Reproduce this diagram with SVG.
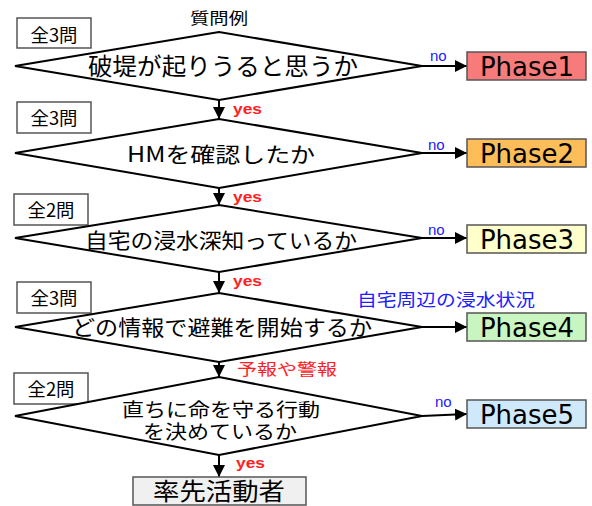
<svg xmlns="http://www.w3.org/2000/svg" width="592" height="506" viewBox="0 0 592 506">
<style>
.dia{fill:#fff;stroke:#000;stroke-width:2}
.lbl{fill:#fff;stroke:#555;stroke-width:1.5}
.ph{stroke:#555;stroke-width:1.5}
.jp{font-family:"Noto Sans CJK JP","Noto Sans",sans-serif;fill:#000}
.qt{font-size:21px;text-anchor:middle}
.cnt{font-size:18px;text-anchor:middle}
.phase{font-family:"DejaVu Sans",sans-serif;font-size:26px;text-anchor:middle;fill:#000}
.yes{font-family:"Liberation Sans",Arial,sans-serif;font-size:15px;font-weight:bold;fill:#ff2020}
.no{font-family:"Liberation Sans",Arial,sans-serif;font-size:15px;fill:#2020ff}
.con{stroke:#000;stroke-width:2;fill:none}
</style>
<defs>
<marker id="ah" viewBox="0 0 12 12" refX="12" refY="6" markerWidth="12" markerHeight="12" markerUnits="userSpaceOnUse" orient="auto">
<path d="M0,0 L12,6 L0,12 Z" fill="#000"/>
</marker>
</defs>
<text class="jp" x="219" y="24" font-size="16" text-anchor="middle" textLength="58" lengthAdjust="spacingAndGlyphs">質問例</text>
<g id="connectors">
<line class="con" x1="422" y1="66" x2="467" y2="66" marker-end="url(#ah)"/>
<line class="con" x1="422" y1="153" x2="467" y2="153" marker-end="url(#ah)"/>
<line class="con" x1="422" y1="238" x2="467" y2="238" marker-end="url(#ah)"/>
<line class="con" x1="422" y1="327" x2="467" y2="327" marker-end="url(#ah)"/>
<line class="con" x1="422" y1="416" x2="467" y2="414" marker-end="url(#ah)"/>
<line class="con" x1="219" y1="100" x2="219" y2="119" marker-end="url(#ah)"/>
<line class="con" x1="219" y1="188" x2="219" y2="205" marker-end="url(#ah)"/>
<line class="con" x1="219" y1="272" x2="219" y2="293" marker-end="url(#ah)"/>
<line class="con" x1="219" y1="362" x2="219" y2="377" marker-end="url(#ah)"/>
<line class="con" x1="219" y1="455" x2="219" y2="477" marker-end="url(#ah)"/>
<text class="no" x="430" y="61">no</text>
<text class="no" x="428" y="150">no</text>
<text class="no" x="428" y="235">no</text>
<text class="no" x="435" y="407">no</text>
<text class="yes" x="233" y="114" textLength="29" lengthAdjust="spacingAndGlyphs">yes</text>
<text class="yes" x="233" y="202" textLength="29" lengthAdjust="spacingAndGlyphs">yes</text>
<text class="yes" x="233" y="286" textLength="29" lengthAdjust="spacingAndGlyphs">yes</text>
<text class="yes" x="236" y="468" textLength="29" lengthAdjust="spacingAndGlyphs">yes</text>
<text class="jp" x="237" y="375" font-size="16" style="fill:#ff2020" textLength="100" lengthAdjust="spacingAndGlyphs">予報や警報</text>
<text class="jp" x="357" y="306" font-size="17" style="fill:#2020ff" textLength="178" lengthAdjust="spacingAndGlyphs">自宅周辺の浸水状況</text>
</g>
<g id="q1">
<rect class="lbl" x="17" y="18" width="74" height="30"/>
<text class="jp cnt" x="54" y="42" textLength="47" lengthAdjust="spacingAndGlyphs">全3問</text>
<polygon class="dia" points="15,66 219,32 422,66 219,100"/>
<text class="jp qt" x="223" y="75" style="font-size:24px" textLength="270" lengthAdjust="spacingAndGlyphs">破堤が起りうると思うか</text>
</g>
<g id="q2">
<rect class="lbl" x="17" y="102" width="74" height="31"/>
<text class="jp cnt" x="54" y="125" textLength="47" lengthAdjust="spacingAndGlyphs">全3問</text>
<polygon class="dia" points="15,153 219,119 422,153 219,188"/>
<text class="jp qt" x="221" y="162" textLength="188" lengthAdjust="spacingAndGlyphs">HMを確認したか</text>
</g>
<g id="q3">
<rect class="lbl" x="14" y="194" width="74" height="31"/>
<text class="jp cnt" x="51" y="217" textLength="47" lengthAdjust="spacingAndGlyphs">全2問</text>
<polygon class="dia" points="15,238 219,205 422,238 219,272"/>
<text class="jp qt" x="221" y="248" textLength="272" lengthAdjust="spacingAndGlyphs">自宅の浸水深知っているか</text>
</g>
<g id="q4">
<rect class="lbl" x="17" y="282" width="74" height="31"/>
<text class="jp cnt" x="54" y="305" textLength="47" lengthAdjust="spacingAndGlyphs">全3問</text>
<polygon class="dia" points="15,327 219,293 422,327 219,362"/>
<text class="jp qt" x="222" y="335" textLength="300" lengthAdjust="spacingAndGlyphs">どの情報で避難を開始するか</text>
</g>
<g id="q5">
<rect class="lbl" x="14" y="373" width="74" height="31"/>
<text class="jp cnt" x="51" y="396" textLength="47" lengthAdjust="spacingAndGlyphs">全2問</text>
<polygon class="dia" points="15,416 219,377 422,416 219,455"/>
<text class="jp qt" x="221" y="417" style="font-size:19px" textLength="198" lengthAdjust="spacingAndGlyphs">直ちに命を守る行動</text>
<text class="jp qt" x="220" y="439" style="font-size:19px" textLength="154" lengthAdjust="spacingAndGlyphs">を決めているか</text>
</g>
<g id="p1"><rect class="ph" x="467" y="52" width="119" height="28" fill="#f77b7b"/><text class="phase" x="527" y="76">Phase1</text></g>
<g id="p2"><rect class="ph" x="467" y="139" width="119" height="28" fill="#fdbd58"/><text class="phase" x="527" y="163">Phase2</text></g>
<g id="p3"><rect class="ph" x="467" y="225" width="119" height="28" fill="#ffffcc"/><text class="phase" x="527" y="249">Phase3</text></g>
<g id="p4"><rect class="ph" x="467" y="313" width="119" height="28" fill="#c9f5c1"/><text class="phase" x="527" y="337">Phase4</text></g>
<g id="p5"><rect class="ph" x="467" y="400" width="119" height="28" fill="#cfe9fb"/><text class="phase" x="527" y="424">Phase5</text></g>
<g id="leader">
<rect x="133" y="477" width="173" height="28" fill="#f0f0f0" stroke="#555" stroke-width="1.5"/>
<text class="jp" x="219" y="500" font-size="24" text-anchor="middle" textLength="132" lengthAdjust="spacingAndGlyphs">率先活動者</text>
</g>
</svg>
